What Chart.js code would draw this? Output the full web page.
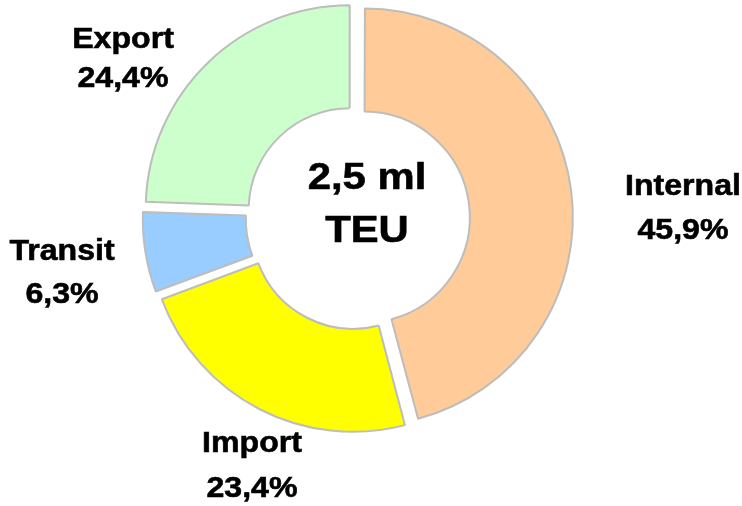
<!DOCTYPE html>
<html>
<head>
<meta charset="utf-8">
<script src="https://cdn.jsdelivr.net/npm/chart.js@4/dist/chart.umd.min.js"></script>
<style>
  html, body { margin: 0; padding: 0; background: #ffffff; }
  #wrap { width: 742px; height: 506px; position: relative; }
</style>
</head>
<body>
<div id="wrap"><canvas id="c" width="742" height="506"></canvas></div>
<script>
// ---- data ----
const categories = ["Internal", "Import", "Transit", "Export"];
const shares = [45.9, 23.4, 6.3, 24.4];
const centerLines = ["2,5 ml", "TEU"];

// ---- styling / layout (not data) ----
const sliceColors = ["#FFCC99", "#FFFF00", "#99CCFF", "#CCFFCC"];
const sliceOffsets = [25, 44, 28, 48];
const labelAnchors = [
  { x: 683, y1: 195, y2: 239 },
  { x: 252, y1: 452, y2: 497 },
  { x: 62,  y1: 260, y2: 303 },
  { x: 123, y1: 48,  y2: 87 }
];
const centerAnchor = { x: 367, y1: 189, y2: 242 };

function fmt(v) { return v.toFixed(1).replace('.', ',') + '%'; }

function drawScaled(ctx, text, x, y, sx) {
  ctx.save();
  ctx.translate(x, y);
  ctx.scale(sx, 1);
  ctx.fillText(text, 0, 0);
  ctx.strokeText(text, 0, 0);
  ctx.restore();
}

const labelPlugin = {
  id: 'labelPlugin',
  afterDraw(chart) {
    const ctx = chart.ctx;
    ctx.save();
    ctx.fillStyle = '#000000';
    ctx.strokeStyle = '#000000';
    ctx.lineWidth = 0.6;
    ctx.textAlign = 'center';
    ctx.textBaseline = 'alphabetic';
    ctx.font = 'bold 30px "Liberation Sans", Arial, sans-serif';
    categories.forEach((name, i) => {
      const a = labelAnchors[i];
      drawScaled(ctx, name, a.x, a.y1, 1.07);
      drawScaled(ctx, fmt(shares[i]), a.x, a.y2, 1.07);
    });
    ctx.font = 'bold 37px "Liberation Sans", Arial, sans-serif';
    drawScaled(ctx, centerLines[0], centerAnchor.x, centerAnchor.y1, 1.13);
    drawScaled(ctx, centerLines[1], centerAnchor.x, centerAnchor.y2, 1.13);
    ctx.restore();
  }
};

new Chart(document.getElementById('c'), {
  type: 'doughnut',
  data: {
    labels: categories,
    datasets: [{
      data: shares,
      backgroundColor: sliceColors,
      borderColor: '#BDBDBD',
      borderWidth: 2,
      offset: sliceOffsets,
      hoverOffset: 0
    }]
  },
  options: {
    responsive: false,
    animation: false,
    radius: 204,
    cutout: '49.5%',
    rotation: 0,
    layout: { padding: { left: 0, right: 26, top: 0, bottom: 70 } },
    plugins: {
      legend: { display: false },
      tooltip: { enabled: false }
    },
    events: []
  },
  plugins: [labelPlugin]
});
</script>
</body>
</html>
